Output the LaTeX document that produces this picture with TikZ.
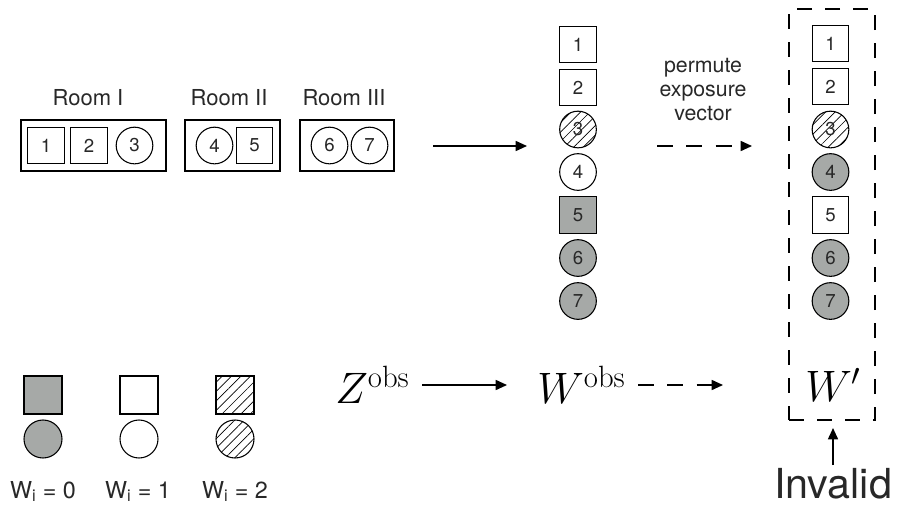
\RequirePackage{fix-cm}
\documentclass[tikz,border=0pt]{standalone}
\usepackage[no-math]{fontspec}
\setmainfont{TeX Gyre Heros}
\usetikzlibrary{arrows.meta,patterns.meta}
\definecolor{cgray}{RGB}{166,169,167}
\definecolor{ctext}{RGB}{40,40,40}
\begin{document}
\begin{tikzpicture}[x=0.75pt,y=-0.75pt,
  item/.style={draw=black, line width=0.8pt, minimum size=27.5pt, inner sep=0pt, text=ctext, font=\fontsize{14}{16}\selectfont},
  sqr/.style={item, rectangle},
  cir/.style={item, circle},
  gr/.style={fill=cgray},
  hat/.style={pattern={Lines[angle=45,distance=5pt,line width=0.5pt]}},
  room/.style={draw=black, line width=0.8pt, inner sep=0pt, minimum height=38.25pt},
  lbl/.style={text=ctext, font=\fontsize{16.5}{18}\selectfont, align=center},
  arr/.style={line width=1.2pt, -{Triangle[length=8.5pt,width=7.5pt]}},
  darr/.style={arr, dash pattern=on 12pt off 10pt},
  mth/.style={font=\fontsize{33}{38}\selectfont, inner sep=0pt}
]
\useasboundingbox (0,0) rectangle (898,504);

% rooms
\node[room, minimum width=108.75pt] (r1) at (93.5,145.5) {};
\node[room, minimum width=71.25pt] (r2) at (232.5,145.5) {};
\node[room, minimum width=70.5pt] (r3) at (347,145.5) {};
\node[lbl, anchor=base] (l1) at (88,105) {Room I};
\node[lbl, anchor=base] (l2) at (229,105) {Room II};
\node[lbl, anchor=base] (l3) at (344,105) {Room III};

\node[sqr] (a1) at (46,145.5) {1};
\node[sqr] (a2) at (89,145.5) {2};
\node[cir] (a3) at (134.5,145.5) {3};
\node[cir] (a4) at (214.5,145.5) {4};
\node[sqr] (a5) at (254.5,145.5) {5};
\node[cir] (a6) at (329.5,145.5) {6};
\node[cir] (a7) at (369.5,145.5) {7};

% column 1
\node[sqr] (b1) at (578,44.5) {1};
\node[sqr] (b2) at (578,87.5) {2};
\node[cir, hat] (b3) at (578,129.5) {3};
\node[cir] (b4) at (578,172) {4};
\node[sqr, gr] (b5) at (578,215) {5};
\node[cir, gr] (b6) at (578,258) {6};
\node[cir, gr] (b7) at (578,301) {7};

% column 2
\node[sqr] (c1) at (830.5,43.5) {1};
\node[sqr] (c2) at (830.5,86.5) {2};
\node[cir, hat] (c3) at (830.5,129.5) {3};
\node[cir, gr] (c4) at (830.5,172) {4};
\node[sqr] (c5) at (830.5,215) {5};
\node[cir, gr] (c6) at (830.5,258) {6};
\node[cir, gr] (c7) at (830.5,301) {7};

% dashed box
\node[draw=black, line width=1.5pt, dash pattern=on 11pt off 10pt, minimum width=64.5pt, minimum height=308.25pt, inner sep=0pt] (wbox) at (832,214.5) {};

% top arrows
\coordinate (t1s) at (433,146);
\coordinate (t1e) at (527,146);
\coordinate (t2s) at (657,146);
\coordinate (t2e) at (752,146);
\draw[arr] (t1s) -- (t1e);
\draw[darr] (t2s) -- (t2e);
\node[lbl, font=\fontsize{16}{18}\selectfont] (perm) at (703,90) {permute\\exposure\\vector};

% bottom row
\node[mth, anchor=base west] (Z) at (335,403) {$Z^{\mathrm{obs}}$};
\node[mth, anchor=base west] (W) at (537,403) {$W^{\mathrm{obs}}$};
\node[mth, anchor=base west] (Wp) at (805,401) {$W'$};
\coordinate (z1) at (422,385);
\coordinate (z2) at (507,385);
\coordinate (w1) at (638,385);
\coordinate (w2) at (723,385);
\draw[arr] (z1) -- (z2);
\draw[darr] (w1) -- (w2);

\node[text=ctext, font=\fontsize{31}{36}\selectfont, anchor=base, inner sep=0pt] (inv) at (833,498) {Invalid};
\coordinate (i1) at (833,465);
\coordinate (i2) at (833,428);
\draw[arr] (i1) -- (i2);

% legend
\node[sqr, gr, minimum size=28.5pt] (g1) at (43,395) {};
\node[cir, gr, minimum size=28.5pt] (g2) at (43,439) {};
\node[sqr, minimum size=28.5pt] (h1) at (139,395) {};
\node[cir, minimum size=28.5pt] (h2) at (139,439) {};
\node[sqr, hat, minimum size=28.5pt] (k1) at (235,395) {};
\node[cir, hat, minimum size=28.5pt] (k2) at (235,439) {};
\node[lbl, font=\fontsize{17.5}{20}\selectfont, anchor=base] (lw0) at (43,498) {W\textsubscript{i} = 0};
\node[lbl, font=\fontsize{17.5}{20}\selectfont, anchor=base] (lw1) at (138,498) {W\textsubscript{i} = 1};
\node[lbl, font=\fontsize{17.5}{20}\selectfont, anchor=base] (lw2) at (235,498) {W\textsubscript{i} = 2};
\end{tikzpicture}
\end{document}
